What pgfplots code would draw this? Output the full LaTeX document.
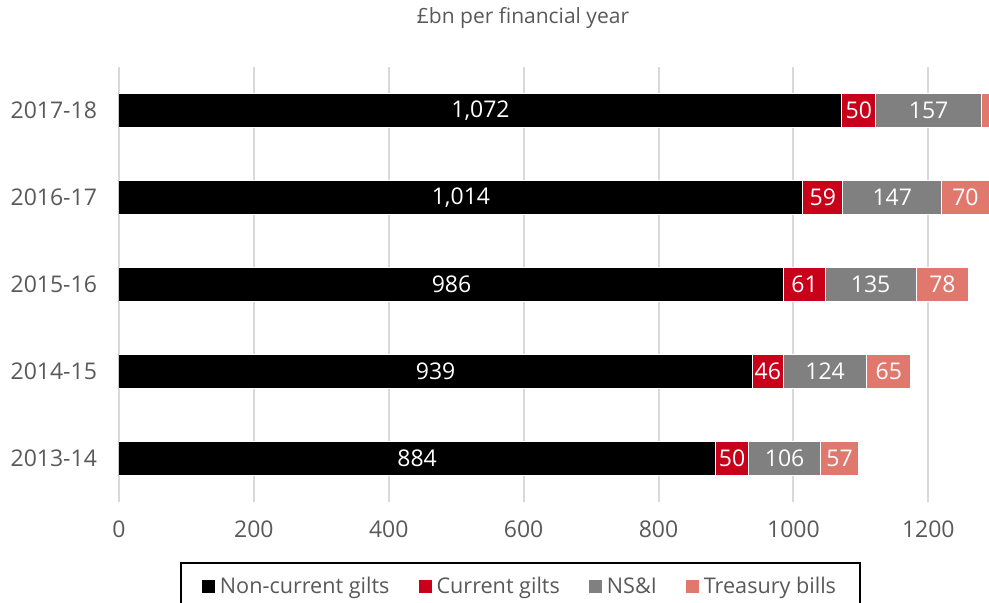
\documentclass[border=0pt]{standalone}
\usepackage{fontspec}
\setmainfont{Open Sans}
\usepackage{pgfplots}
\usepackage{pgfplotstable}
\pgfplotsset{compat=1.18}

\definecolor{ncg}{RGB}{0,0,0}
\definecolor{cg}{RGB}{200,0,26}
\definecolor{nsi}{RGB}{128,128,128}
\definecolor{tb}{RGB}{224,120,110}
\definecolor{txt}{RGB}{89,89,89}
\definecolor{grd}{RGB}{217,217,217}

% £bn per financial year
\pgfplotstableread{
idx year a b c d
0 2013-14 884 50 106 57
1 2014-15 939 46 124 65
2 2015-16 986 61 135 78
3 2016-17 1014 59 147 70
4 2017-18 1072 50 157 64
}\debt
% label positions: middle of each segment
\pgfplotstablecreatecol[create col/expr={\thisrow{a}/2}]{ma}{\debt}
\pgfplotstablecreatecol[create col/expr={\thisrow{a}+\thisrow{b}/2}]{mb}{\debt}
\pgfplotstablecreatecol[create col/expr={\thisrow{a}+\thisrow{b}+\thisrow{c}/2}]{mc}{\debt}
\pgfplotstablecreatecol[create col/expr={\thisrow{a}+\thisrow{b}+\thisrow{c}+\thisrow{d}/2}]{md}{\debt}

\pgfplotsset{
  geom/.style={at={(0,0)}, anchor=south west, scale only axis,
    width=435pt, height=217.5pt, xmin=0, xmax=1290, ymin=-0.5, ymax=4.5},
  lbl/.style={draw=none, mark=none, nodes near coords, point meta=explicit,
    restrict x to domain=0:1290,
    every node near coord/.append style={white, anchor=center,
      font=\fontsize{11.5}{13}\selectfont}},
}

\begin{document}
\begin{tikzpicture}
\path[use as bounding box] (-59.5pt,-50pt) rectangle (435pt,251pt);
\begin{axis}[geom,
  xbar stacked, bar width=0.4,
  ytick={0,...,4},
  yticklabels={2013-14,2014-15,2015-16,2016-17,2017-18},
  xtick={0,200,...,1200},
  xmajorgrids, ymajorgrids=false,
  major grid style={grd, line width=1pt},
  axis line style={draw=none},
  major tick length=0pt,
  tick label style={txt, font=\fontsize{11.5}{13}\selectfont},
  /pgf/number format/assume math mode=true,
  /pgf/number format/1000 sep={},
  yticklabel style={xshift=-7.5pt},
  xticklabel style={yshift=-6pt},
  legend style={at={(0.4615,-0.138)}, anchor=north, draw=black,
    line width=1pt, text=txt, font=\fontsize{10.8}{12}\selectfont,
    legend columns=4, inner xsep=10pt, inner ysep=5pt,
    /tikz/every even column/.append style={column sep=12pt}},
  legend image code/.code={\fill[#1] (0pt,-3.6pt) rectangle (7pt,3.4pt);},
  legend cell align=left,
]
\addplot[fill=ncg, draw=white, line width=0.5pt] table[x=a, y=idx] {\debt};
\addplot[fill=cg, draw=white, line width=0.5pt] table[x=b, y=idx] {\debt};
\addplot[fill=nsi, draw=white, line width=0.5pt] table[x=c, y=idx] {\debt};
\addplot[fill=tb, draw=white, line width=0.5pt] table[x=d, y=idx] {\debt};
\legend{Non-current gilts, Current gilts, NS\&I, Treasury bills}
\end{axis}
\begin{axis}[geom, hide axis, clip=false,
  /pgf/number format/assume math mode=true,
  /pgf/number format/1000 sep={,}]
\addplot[lbl] table[x=ma, y=idx, meta=a] {\debt};
\addplot[lbl] table[x=mb, y=idx, meta=b] {\debt};
\addplot[lbl] table[x=mc, y=idx, meta=c] {\debt};
\addplot[lbl] table[x=md, y=idx, meta=d] {\debt};
\end{axis}
\node[txt, font=\fontsize{10.5}{12}\selectfont] at (202pt,242pt) {£bn per financial year};
\end{tikzpicture}
\end{document}
